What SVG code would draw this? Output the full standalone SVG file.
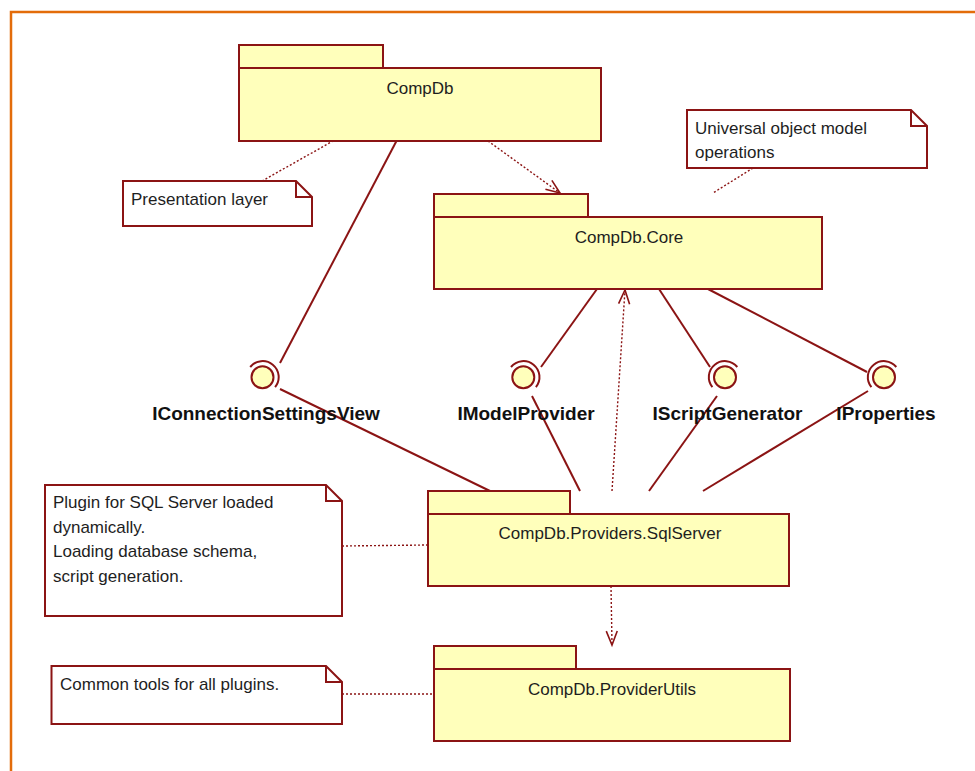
<svg xmlns="http://www.w3.org/2000/svg" width="975" height="771" viewBox="0 0 975 771">
<defs>
<style>
.pk{fill:#FFFFBB;stroke:#8B1414;stroke-width:2}
.nt{fill:#FFFFFF;stroke:#8B1414;stroke-width:2}
.fd{fill:none;stroke:#8B1414;stroke-width:2}
.ln{fill:none;stroke:#8B1414;stroke-width:2}
.dt{fill:none;stroke:#8B1414;stroke-width:1.4;stroke-dasharray:2 2}
.ib{fill:#FFFFBB;stroke:#8B1414;stroke-width:2}
.sk{fill:none;stroke:#8B1414;stroke-width:2}
.t{font-family:"Liberation Sans",Arial,sans-serif;font-size:17px;fill:#1E1E1E}
.tc{text-anchor:middle}
.lb{font-family:"Liberation Sans",Arial,sans-serif;font-size:19px;font-weight:bold;fill:#111;text-anchor:middle}
</style>
<marker id="open" markerUnits="userSpaceOnUse" markerWidth="18" markerHeight="14" refX="15" refY="7" orient="auto">
<path d="M1,1.5 L15,7 L1,12.5" fill="none" stroke="#8B1414" stroke-width="1.6"/>
</marker>
</defs>
<rect width="975" height="771" fill="#FFFFFF"/>
<path d="M11,771 V12 H975" fill="none" stroke="#E36C0A" stroke-width="2.5"/>

<g id="connectors">
<line class="ln" x1="397" y1="140" x2="280" y2="363"/>
<line class="ln" x1="280" y1="389" x2="490" y2="491"/>
<line class="ln" x1="597" y1="289" x2="541" y2="367"/>
<line class="ln" x1="532" y1="396" x2="580" y2="491"/>
<line class="ln" x1="659" y1="289" x2="710" y2="367"/>
<line class="ln" x1="717" y1="396" x2="649" y2="491"/>
<line class="ln" x1="708" y1="289" x2="867" y2="372"/>
<line class="ln" x1="868" y1="391" x2="703" y2="491"/>
<line class="dt" x1="262" y1="181" x2="333" y2="141"/>
<line class="dt" x1="753" y1="168" x2="713" y2="193"/>
<line class="dt" x1="488" y1="141" x2="560" y2="193" marker-end="url(#open)"/>
<line class="dt" x1="612" y1="491" x2="625" y2="290" marker-end="url(#open)"/>
<line class="dt" x1="342" y1="546" x2="428" y2="545"/>
<line class="dt" x1="611" y1="586" x2="612" y2="645" marker-end="url(#open)"/>
<line class="dt" x1="342" y1="694" x2="434" y2="694"/>
</g>

<g id="CompDb">
<rect class="pk" x="239" y="45" width="144" height="23"/>
<rect class="pk" x="239" y="68" width="362" height="73"/>
<text class="t tc" x="420" y="94">CompDb</text>
</g>

<g id="CompDbCore">
<rect class="pk" x="434" y="194" width="154" height="23"/>
<rect class="pk" x="434" y="217" width="388" height="72"/>
<text class="t tc" x="629" y="243">CompDb.Core</text>
</g>

<g id="SqlServer">
<rect class="pk" x="428" y="491" width="142" height="23"/>
<rect class="pk" x="428" y="514" width="361" height="72"/>
<text class="t tc" x="610" y="539">CompDb.Providers.SqlServer</text>
</g>

<g id="ProviderUtils">
<rect class="pk" x="434" y="646" width="142" height="23"/>
<rect class="pk" x="434" y="669" width="356" height="72"/>
<text class="t tc" x="612" y="695">CompDb.ProviderUtils</text>
</g>

<g id="notePresentation">
<path class="nt" d="M123,181 H296 L312,197 V226 H123 Z"/>
<path class="fd" d="M296,181 V197 H312"/>
<text class="t" x="131" y="205">Presentation layer</text>
</g>

<g id="noteUniversal">
<path class="nt" d="M687,110 H911 L927,126 V168 H687 Z"/>
<path class="fd" d="M911,110 V126 H927"/>
<text class="t" x="695" y="134">Universal object model</text>
<text class="t" x="695" y="158">operations</text>
</g>

<g id="notePlugin">
<path class="nt" d="M45,485 H326 L342,501 V616 H45 Z"/>
<path class="fd" d="M326,485 V501 H342"/>
<text class="t" x="53" y="508">Plugin for SQL Server loaded</text>
<text class="t" x="53" y="533">dynamically.</text>
<text class="t" x="53" y="557">Loading database schema,</text>
<text class="t" x="53" y="582">script generation.</text>
</g>

<g id="noteCommon">
<path class="nt" d="M51.5,666 H326 L342,682 V724 H51.5 Z"/>
<path class="fd" d="M326,666 V682 H342"/>
<text class="t" x="60" y="690">Common tools for all plugins.</text>
</g>

<g id="IConnectionSettingsView">
<circle class="ib" cx="262.5" cy="377.3" r="11"/>
<path class="sk" d="M250.2,367 a16,16 0 0 1 24.9,20.2"/>
<text class="lb" x="266" y="420">IConnectionSettingsView</text>
</g>

<g id="IModelProvider">
<circle class="ib" cx="523.3" cy="377.3" r="11"/>
<path class="sk" d="M511,367 a16,16 0 0 1 24.9,20.2"/>
<text class="lb" x="526" y="420">IModelProvider</text>
</g>

<g id="IScriptGenerator">
<circle class="ib" cx="725" cy="377.3" r="11"/>
<path class="sk" d="M737.3,367 a16,16 0 0 0 -24.9,20.2"/>
<text class="lb" x="727.5" y="420">IScriptGenerator</text>
</g>

<g id="IProperties">
<circle class="ib" cx="884" cy="377.3" r="11"/>
<path class="sk" d="M896.3,367 a16,16 0 0 0 -24.9,20.2"/>
<text class="lb" x="886" y="420">IProperties</text>
</g>
</svg>
